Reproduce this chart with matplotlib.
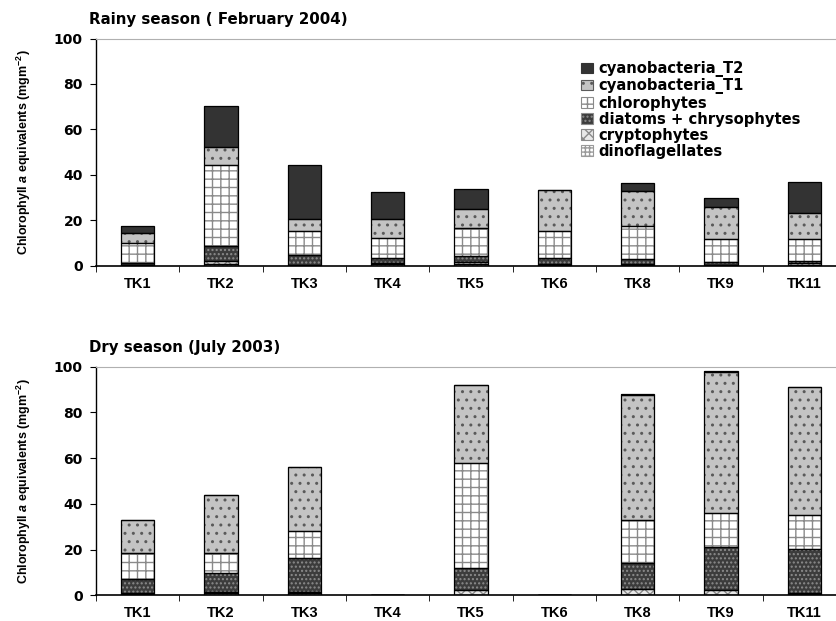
import matplotlib
matplotlib.use("Agg")
import matplotlib.pyplot as plt
from matplotlib.patches import Patch
from matplotlib import font_manager

plt.rcParams['font.family'] = ['Liberation Sans', 'DejaVu Sans']
plt.rcParams['font.weight'] = 'bold'
plt.rcParams['hatch.linewidth'] = 1.0

# narrow font for the rotated y label, if there is one
names = {f.name for f in font_manager.fontManager.ttflist}
label_font = 'Liberation Sans Narrow' if 'Liberation Sans Narrow' in names else 'Liberation Sans'
label_size = 10.5 if label_font == 'Liberation Sans Narrow' else 9
plt.rcParams['mathtext.fontset'] = 'custom'
plt.rcParams['mathtext.rm'] = label_font + ':bold'
plt.rcParams['mathtext.it'] = label_font + ':italic:bold'

# --- data ---
sites = ['TK1', 'TK2', 'TK3', 'TK4', 'TK5', 'TK6', 'TK8', 'TK9', 'TK11']
groups = ['dinoflagellates', 'cryptophytes', 'diatoms + chrysophytes',
          'chlorophytes', 'cyanobacteria_T1', 'cyanobacteria_T2']

# rainy season (February 2004), mg m-2
rainy_dino = [0.4, 1.0, 0.3, 1.0, 1.0, 0.5, 0.4, 0.3, 0.6]
rainy_crypto = [0.2, 1.0, 0.3, 0.2, 0.6, 0.4, 0.4, 0.2, 0.6]
rainy_diatoms = [0.7, 6.8, 4.2, 2.2, 2.8, 2.5, 2.4, 1.3, 1.0]
rainy_chloro = [8.7, 35.5, 10.6, 9.1, 12.2, 12.0, 14.5, 10.2, 9.8]
rainy_cyano_t1 = [4.4, 7.9, 5.1, 8.0, 8.5, 17.9, 15.1, 13.9, 11.4]
rainy_cyano_t2 = [3.2, 18.1, 23.8, 11.9, 8.9, 0.2, 3.5, 3.8, 13.5]

# dry season (July 2003), mg m-2
dry_dino = [0.6, 0.8, 0.8, 0, 0.3, 0, 0.3, 0.3, 0.5]
dry_crypto = [0.4, 0.5, 0.5, 0, 2.0, 0, 2.6, 2.2, 0.6]
dry_diatoms = [6.0, 8.6, 15.2, 0, 9.6, 0, 11.1, 18.8, 19.0]
dry_chloro = [11.4, 8.5, 11.5, 0, 45.8, 0, 18.9, 14.8, 15.0]
dry_cyano_t1 = [14.4, 25.3, 28.0, 0, 34.4, 0, 54.7, 61.5, 55.9]
dry_cyano_t2 = [0, 0, 0, 0, 0, 0, 0.4, 0.4, 0.3]

# (facecolor, hatch, hatch colour) per group, bottom to top
styles = [
    ('white', '++++', '#9a9a9a'),
    ('#e8e8e8', 'xxx', '#8a8a8a'),
    ('#3c3c3c', '....', '#8c8c8c'),
    ('white', '++', '#8a8a8a'),
    ('#c4c4c4', '..', '#5a5a5a'),
    ('#333333', '', '#333333'),
]

ylabel = r'Chlorophyll $\mathit{a}$ equivalents (mgm$^{-2}$)'

fig = plt.figure(figsize=(8.36, 6.21), dpi=100)
ax_top = fig.add_axes([0.1148, 0.5717, 0.897, 0.3663])
ax_bot = fig.add_axes([0.1148, 0.0414, 0.897, 0.3681])


def draw_panel(ax, layers, title):
    x = list(range(len(sites)))
    bottom = [0.0] * len(sites)
    for vals, (fc, h, hc) in zip(layers, styles):
        ax.bar(x, vals, width=0.4, bottom=bottom, color=fc, hatch=h,
               edgecolor=hc, linewidth=0, zorder=2)
        ax.bar(x, vals, width=0.4, bottom=bottom, fill=False,
               edgecolor='black', linewidth=0.9, zorder=3)
        bottom = [b + v for b, v in zip(bottom, vals)]
    ax.set_xlim(-0.5, 8.5)
    ax.set_ylim(0, 100)
    ax.set_yticks([0, 20, 40, 60, 80, 100])
    ax.set_xticks(x)
    ax.set_xticklabels(sites)
    ax.set_xticks([i + 0.5 for i in range(-1, 9)], minor=True)
    ax.tick_params(axis='x', which='major', length=0, pad=8, labelsize=10.5)
    ax.tick_params(axis='x', which='minor', length=4, direction='out')
    ax.tick_params(axis='y', length=4, direction='out', pad=5.5)
    ax.spines['right'].set_visible(False)
    ax.spines['top'].set_color('#b0b0b0')
    ax.spines['left'].set_linewidth(1.0)
    ax.spines['bottom'].set_linewidth(1.2)
    ax.text(-0.009, 1.083, title, transform=ax.transAxes, fontsize=10.8,
            family='DejaVu Sans', fontweight='bold', ha='left', va='center')
    for lab in ax.get_yticklabels():
        lab.set_fontfamily('DejaVu Sans')
        lab.set_fontsize(10)
        lab.set_fontweight('bold')
    for lab in ax.get_xticklabels():
        lab.set_fontweight('bold')


draw_panel(ax_top, [rainy_dino, rainy_crypto, rainy_diatoms, rainy_chloro,
                    rainy_cyano_t1, rainy_cyano_t2],
           'Rainy season ( February 2004)')
draw_panel(ax_bot, [dry_dino, dry_crypto, dry_diatoms, dry_chloro,
                    dry_cyano_t1, dry_cyano_t2],
           'Dry season (July 2003)')

fig.text(0.029, 0.7548, ylabel, rotation=90, ha='center', va='center',
         fontsize=label_size, family=label_font, fontweight='bold')
fig.text(0.029, 0.2255, ylabel, rotation=90, ha='center', va='center',
         fontsize=label_size, family=label_font, fontweight='bold')

handles = [Patch(facecolor=fc, hatch=h, edgecolor=hc, linewidth=0.8)
           for fc, h, hc in styles][::-1]
ax_top.legend(handles, groups[::-1], loc='upper left',
              bbox_to_anchor=(0.639, 0.925), frameon=False,
              handlelength=0.8, handleheight=0.7, handletextpad=0.4,
              labelspacing=0.07, borderaxespad=0,
              prop={'family': 'DejaVu Sans', 'weight': 'bold', 'size': 10.6})

fig.savefig('out.png', dpi=100)
